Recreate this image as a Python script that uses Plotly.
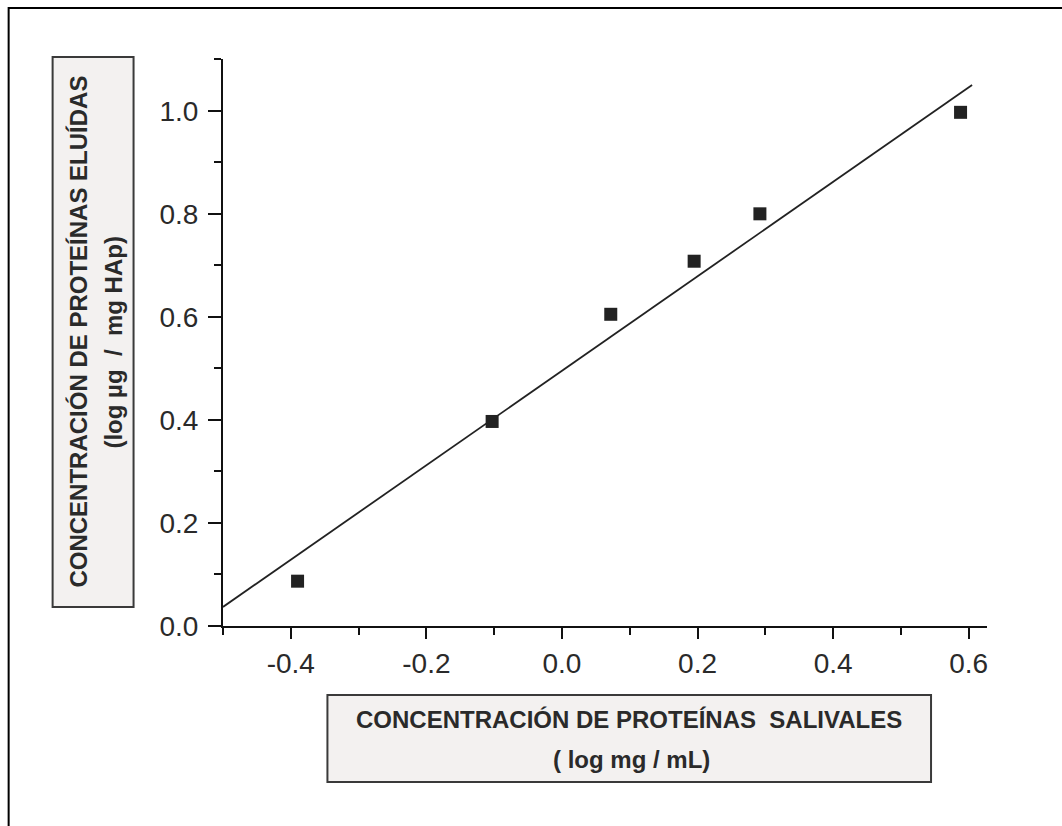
import plotly.graph_objects as go

# ---- data ----
conc_saliva = [-0.39, -0.103, 0.072, 0.195, 0.292, 0.588]
conc_eluted = [0.087, 0.397, 0.605, 0.708, 0.800, 0.997]
fit_x = [-0.5, 0.605]
fit_y = [0.037, 1.050]

x_tickvals = [-0.4, -0.2, 0.0, 0.2, 0.4, 0.6]
x_ticklabels = ["-0.4", "-0.2", "0.0", "0.2", "0.4", "0.6"]
y_tickvals = [0.0, 0.2, 0.4, 0.6, 0.8, 1.0]
y_ticklabels = ["0.0", "0.2", "0.4", "0.6", "0.8", "1.0"]

x_title = ["CONCENTRACIÓN DE PROTEÍNAS\u00a0 SALIVALES", "( log mg / mL)"]
y_title = ["CONCENTRACIÓN DE PROTEÍNAS ELUÍDAS", "(log \u00b5g\u00a0 /\u00a0 mg HAp)"]

W, H = 1062, 826
L, R, T, B = 222.5, 987, 59, 626  # plot area in pixels


def px(x):
    return (x - L) / (R - L)


def py(y):
    return (B - y) / (B - T)


fig = go.Figure()
fig.add_trace(go.Scatter(x=fit_x, y=fit_y, mode="lines",
                         line=dict(color="#222222", width=1.8), showlegend=False))
fig.add_trace(go.Scatter(x=conc_saliva, y=conc_eluted, mode="markers",
                         marker=dict(symbol="square", size=13, color="#222222"),
                         showlegend=False))

tickfont = dict(family="Liberation Sans, Arial", size=28, color="#2a2a2a")
fig.update_xaxes(range=[-0.5, 0.627], tickmode="array", tickvals=x_tickvals, ticktext=x_ticklabels,
                 showgrid=False, zeroline=False, showline=True, linecolor="#111111",
                 linewidth=2, ticks="outside", ticklen=11, tickwidth=2, tickcolor="#111111",
                 minor=dict(dtick=0.1, tick0=0, ticks="outside", ticklen=7, tickwidth=2, tickcolor="#111111"),
                 tickfont=tickfont)
fig.update_yaxes(range=[0, 1.1005], tickmode="array", tickvals=y_tickvals, ticktext=y_ticklabels,
                 showgrid=False, zeroline=False, showline=True, linecolor="#111111",
                 linewidth=2, ticks="outside", ticklen=13, tickwidth=2, tickcolor="#111111",
                 ticklabelstandoff=4,
                 minor=dict(dtick=0.1, tick0=0, ticks="outside", ticklen=7, tickwidth=2, tickcolor="#111111"),
                 tickfont=tickfont)

shapes = [
    # outer frame
    dict(type="rect", xref="paper", yref="paper", x0=px(8), x1=px(1090), y0=py(8), y1=py(860),
         line=dict(color="#000000", width=2), fillcolor="rgba(0,0,0,0)", layer="below"),
    # y title box
    dict(type="rect", xref="paper", yref="paper", x0=px(52), x1=px(133), y0=py(57), y1=py(607),
         line=dict(color="#3a3a3a", width=2), fillcolor="#f3f1f0", layer="below"),
    # x title box
    dict(type="rect", xref="paper", yref="paper", x0=px(327), x1=px(931), y0=py(695), y1=py(782),
         line=dict(color="#3a3a3a", width=2), fillcolor="#f3f1f0", layer="below"),
]

tfont = dict(family="Liberation Sans, Arial", size=24, color="#2a2a2a")
annotations = [
    dict(text="<b>%s</b>" % x_title[0], x=px(629), y=py(719), xref="paper", yref="paper",
         showarrow=False, font=tfont, xanchor="center", yanchor="middle"),
    dict(text="<b>%s</b>" % x_title[1], x=px(631), y=py(759), xref="paper", yref="paper",
         showarrow=False, font=tfont, xanchor="center", yanchor="middle"),
    dict(text="<b>%s</b>" % y_title[0], x=px(77), y=py(332), xref="paper", yref="paper",
         showarrow=False, font=tfont, textangle=-90, xanchor="center", yanchor="middle"),
    dict(text="<b>%s</b>" % y_title[1], x=px(112), y=py(343), xref="paper", yref="paper",
         showarrow=False, font=tfont, textangle=-90, xanchor="center", yanchor="middle"),
]

fig.update_layout(width=W, height=H, margin=dict(l=L, r=W - R, t=T, b=H - B),
                  paper_bgcolor="white", plot_bgcolor="white",
                  shapes=shapes, annotations=annotations)

fig.write_html("out.html")
